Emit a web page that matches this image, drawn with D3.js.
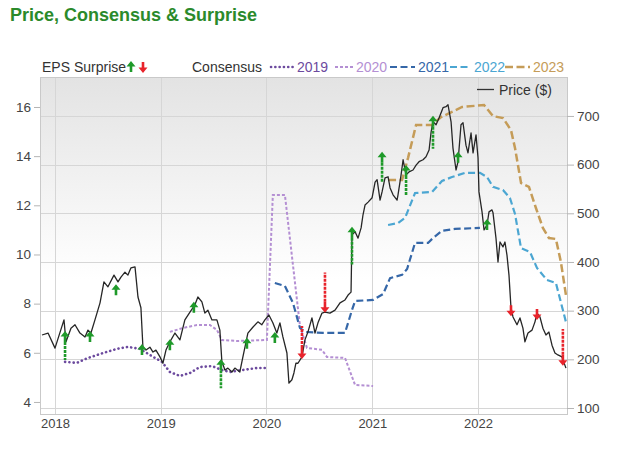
<!DOCTYPE html>
<html>
<head>
<meta charset="utf-8">
<script src="https://cdn.jsdelivr.net/npm/d3@7"></script>
<style>
  body { margin: 0; background: #fff; }
  svg { display: block; font-family: "Liberation Sans", Arial, sans-serif; }
</style>
</head>
<body>
<svg id="chart" width="620" height="468"></svg>
<script>
// price ($), [decimal year, value]
const price = [
  [2017.877,250],[2017.934,254],[2018.000,223],[2018.085,281],[2018.104,236],[2018.151,264],[2018.189,271],[2018.236,254],
  [2018.284,246],[2018.312,260],[2018.340,254],[2018.378,281],[2018.426,316],[2018.463,359],[2018.501,349],[2018.558,373],
  [2018.596,359],[2018.624,369],[2018.662,379],[2018.690,373],[2018.719,388],[2018.757,390],[2018.785,328],[2018.813,306],
  [2018.832,225],[2018.861,219],[2018.898,225],[2018.927,215],[2018.955,219],[2018.993,205],[2019.021,192],[2019.050,219],
  [2019.087,236],[2019.135,254],[2019.182,240],[2019.229,281],[2019.277,297],[2019.324,312],[2019.352,328],[2019.390,318],
  [2019.418,295],[2019.447,301],[2019.485,281],[2019.532,281],[2019.560,260],[2019.579,195],[2019.608,178],[2019.636,182],
  [2019.674,174],[2019.702,182],[2019.749,174],[2019.778,205],[2019.825,254],[2019.872,266],[2019.920,277],[2019.957,271],
  [2019.986,281],[2020.024,291],[2020.061,275],[2020.099,254],[2020.128,275],[2020.156,246],[2020.194,213],[2020.213,151],
  [2020.241,158],[2020.260,172],[2020.279,192],[2020.298,192],[2020.336,205],[2020.364,240],[2020.392,256],[2020.430,285],
  [2020.459,254],[2020.487,275],[2020.525,295],[2020.553,297],[2020.600,295],[2020.648,301],[2020.695,316],[2020.742,322],
  [2020.771,332],[2020.799,338],[2020.808,456],[2020.837,462],[2020.865,449],[2020.894,470],[2020.912,497],[2020.931,517],
  [2020.960,523],[2020.998,532],[2021.026,564],[2021.045,569],[2021.073,527],[2021.092,544],[2021.120,573],[2021.149,575],
  [2021.168,552],[2021.196,538],[2021.234,527],[2021.243,538],[2021.272,579],[2021.291,610],[2021.319,579],[2021.347,585],
  [2021.385,589],[2021.414,599],[2021.442,606],[2021.480,610],[2021.508,616],[2021.537,630],[2021.556,667],[2021.574,688],
  [2021.603,682],[2021.631,696],[2021.669,717],[2021.697,719],[2021.716,723],[2021.745,688],[2021.763,634],[2021.792,589],
  [2021.811,606],[2021.839,682],[2021.858,686],[2021.886,640],[2021.905,624],[2021.934,665],[2021.953,624],[2021.981,661],
  [2022.000,614],[2022.009,544],[2022.038,503],[2022.057,466],[2022.085,476],[2022.104,503],[2022.132,507],[2022.142,501],
  [2022.170,449],[2022.189,400],[2022.208,441],[2022.236,431],[2022.255,441],[2022.274,414],[2022.293,373],[2022.312,306],
  [2022.331,287],[2022.369,271],[2022.397,285],[2022.425,264],[2022.444,236],[2022.473,254],[2022.511,260],[2022.539,277],
  [2022.558,295],[2022.586,287],[2022.614,264],[2022.643,250],[2022.671,256],[2022.700,229],[2022.728,213],[2022.756,209],
  [2022.794,205],[2022.832,182]
];

// EPS consensus by fiscal year, [decimal year, eps]
const consensus2019 = [
  [2018.095,5.63],[2018.208,5.59],[2018.312,5.79],[2018.454,5.99],[2018.586,6.16],[2018.690,6.24],[2018.804,6.16],
  [2018.898,5.91],[2019.012,5.63],[2019.087,5.22],[2019.182,5.06],[2019.277,5.18],[2019.371,5.42],[2019.485,5.46],
  [2019.579,5.30],[2019.655,5.22],[2019.778,5.30],[2019.910,5.38],[2020.005,5.38]
];
const consensus2020 = [
  [2019.087,6.85],[2019.210,7.01],[2019.343,7.13],[2019.466,7.13],[2019.532,6.93],[2019.579,6.52],[2019.721,6.48],
  [2020.005,6.52],[2020.061,12.42],[2020.175,12.42],[2020.317,7.09],[2020.383,6.20],[2020.525,6.12],[2020.572,5.83],
  [2020.742,5.79],[2020.837,4.69],[2021.007,4.65]
];
const consensus2021 = [
  [2020.080,8.84],[2020.175,8.72],[2020.251,8.03],[2020.317,7.01],[2020.364,6.85],[2020.534,6.81],[2020.742,6.81],
  [2020.808,7.74],[2020.837,8.11],[2021.007,8.15],[2021.102,8.39],[2021.168,9.04],[2021.281,9.17],[2021.329,9.41],
  [2021.404,10.47],[2021.527,10.47],[2021.574,10.67],[2021.659,10.96],[2021.782,11.04],[2022.018,11.08]
];
const consensus2022 = [
  [2021.149,11.20],[2021.243,11.28],[2021.310,11.49],[2021.404,12.50],[2021.565,12.54],[2021.659,12.99],[2021.754,13.15],
  [2021.877,13.32],[2022.019,13.32],[2022.085,13.15],[2022.142,12.75],[2022.236,12.62],[2022.302,12.30],[2022.350,11.65],
  [2022.407,10.26],[2022.492,10.10],[2022.558,9.45],[2022.652,8.96],[2022.737,8.84],[2022.803,7.74],[2022.832,7.25]
];
const consensus2023 = [
  [2021.149,13.03],[2021.281,13.03],[2021.338,13.93],[2021.414,15.27],[2021.565,15.27],[2021.650,15.59],[2021.754,15.80],
  [2021.849,16.00],[2022.057,16.08],[2022.142,15.63],[2022.236,15.55],[2022.312,15.06],[2022.350,14.33],[2022.407,12.91],
  [2022.482,12.75],[2022.548,11.89],[2022.614,11.08],[2022.671,10.67],[2022.737,10.63],[2022.784,9.70],[2022.832,8.35]
];

// EPS surprises: date, price level of the arrow, tail length ($), beat or miss
const surprises = [
  {year: 2018.095, price: 246, tail: 37, beat: true},
  {year: 2018.331, price: 246, tail: 0, beat: true},
  {year: 2018.577, price: 342, tail: 0, beat: true},
  {year: 2018.823, price: 219, tail: 0, beat: true},
  {year: 2019.087, price: 229, tail: 0, beat: true},
  {year: 2019.314, price: 306, tail: 0, beat: true},
  {year: 2019.570, price: 188, tail: 37, beat: true},
  {year: 2019.816, price: 232, tail: 0, beat: true},
  {year: 2020.080, price: 244, tail: 0, beat: true},
  {year: 2020.336, price: 213, tail: 45, beat: false},
  {year: 2020.553, price: 308, tail: 60, beat: false},
  {year: 2020.808, price: 460, tail: 55, beat: true},
  {year: 2021.092, price: 614, tail: 39, beat: true},
  {year: 2021.319, price: 587, tail: 39, beat: true},
  {year: 2021.574, price: 688, tail: 45, beat: true},
  {year: 2021.811, price: 614, tail: 0, beat: true},
  {year: 2022.085, price: 476, tail: 0, beat: true},
  {year: 2022.312, price: 301, tail: 0, beat: false},
  {year: 2022.558, price: 293, tail: 0, beat: false},
  {year: 2022.803, price: 199, tail: 53, beat: false}
];

const epsTicks = [4, 6, 8, 10, 12, 14, 16];
const priceTicks = [100, 200, 300, 400, 500, 600, 700];
const consensusLabels = ["2019", "2020", "2021", "2022", "2023"];

function toDate(dy) {
  const y = Math.floor(dy);
  const a = new Date(y, 0, 1), b = new Date(y + 1, 0, 1);
  return new Date(+a + (dy - y) * (b - a));
}

const svg = d3.select("#chart");
const box = {left: 40, right: 567, top: 77, bottom: 414};

const x = d3.scaleTime()
    .domain([toDate(2017.858), toDate(2022.842)])
    .range([box.left, box.right]);
const yEps = d3.scaleLinear().domain([3.51, 17.22]).range([box.bottom, box.top]);
const yPrice = d3.scaleLinear().domain([87.7, 780]).range([box.bottom, box.top]);

// title
svg.append("text")
    .attr("x", 10).attr("y", 21)
    .attr("fill", "#2b8a2b")
    .attr("font-size", 18).attr("font-weight", "bold")
    .text("Price, Consensus & Surprise");

// plot background
const defs = svg.append("defs");
const grad = defs.append("linearGradient")
    .attr("id", "bg").attr("x1", 0).attr("y1", 0).attr("x2", 0).attr("y2", 1);
grad.append("stop").attr("offset", "0%").attr("stop-color", "#e3e3e3");
grad.append("stop").attr("offset", "60%").attr("stop-color", "#ffffff");
defs.append("clipPath").attr("id", "clip")
  .append("rect").attr("x", box.left).attr("y", box.top)
    .attr("width", box.right - box.left).attr("height", box.bottom - box.top);

svg.append("rect")
    .attr("x", box.left).attr("y", box.top)
    .attr("width", box.right - box.left).attr("height", box.bottom - box.top)
    .attr("fill", "url(#bg)");

// grid
svg.append("g").selectAll("line")
  .data(priceTicks)
  .join("line")
    .attr("x1", box.left).attr("x2", box.right)
    .attr("y1", d => Math.round(yPrice(d)) + 0.5).attr("y2", d => Math.round(yPrice(d)) + 0.5)
    .attr("stroke", "#d6d6d6");
svg.append("g").selectAll("line")
  .data(x.ticks(d3.timeYear))
  .join("line")
    .attr("x1", d => Math.round(x(d)) + 0.5).attr("x2", d => Math.round(x(d)) + 0.5)
    .attr("y1", box.top).attr("y2", box.bottom)
    .attr("stroke", "#d6d6d6");

svg.append("rect")
    .attr("x", box.left + 0.5).attr("y", box.top + 0.5)
    .attr("width", box.right - box.left).attr("height", box.bottom - box.top)
    .attr("fill", "none").attr("stroke", "#c9c9c9");

// axes
const axisL = svg.append("g")
    .attr("transform", "translate(" + box.left + ",0)")
    .call(d3.axisLeft(yEps).tickValues(epsTicks).tickSize(6).tickPadding(3));
const axisR = svg.append("g")
    .attr("transform", "translate(" + box.right + ",0)")
    .call(d3.axisRight(yPrice).tickValues(priceTicks).tickSize(7).tickPadding(3));
const axisB = svg.append("g")
    .attr("transform", "translate(0," + box.bottom + ")")
    .call(d3.axisBottom(x).ticks(d3.timeYear).tickFormat(d3.timeFormat("%Y")).tickSize(0).tickPadding(5));

[axisL, axisR, axisB].forEach(a => {
  a.select(".domain").remove();
  a.selectAll("line").attr("stroke", "#b5b5b5");
  a.selectAll("text").attr("fill", "#444").attr("font-size", 13.5)
    .attr("font-family", "'Liberation Sans', Arial, sans-serif");
});
axisB.selectAll("text").attr("font-size", 13);

// consensus lines
const consensusSeries = [
  {data: consensus2019, color: "#6c4a9e", width: 2.6, dash: "0.1,4.2", cap: "round"},
  {data: consensus2020, color: "#b48fd3", width: 2, dash: "3,2", cap: "butt"},
  {data: consensus2021, color: "#3567a8", width: 2.2, dash: "7,3.5", cap: "butt"},
  {data: consensus2022, color: "#4ba6d2", width: 2.2, dash: "7,3.5", cap: "butt"},
  {data: consensus2023, color: "#c59c58", width: 2.5, dash: "8,3.5", cap: "butt"}
];

const epsLine = d3.line()
    .x(d => x(toDate(d[0])))
    .y(d => yEps(d[1]));

const plot = svg.append("g").attr("clip-path", "url(#clip)");

consensusSeries.forEach(s => {
  plot.append("path")
      .datum(s.data)
      .attr("fill", "none")
      .attr("stroke", s.color)
      .attr("stroke-width", s.width)
      .attr("stroke-dasharray", s.dash)
      .attr("stroke-linecap", s.cap)
      .attr("d", epsLine);
});

// price line
const priceLine = d3.line()
    .x(d => x(toDate(d[0])))
    .y(d => yPrice(d[1]));

plot.append("path")
    .datum(price)
    .attr("fill", "none")
    .attr("stroke", "#262626")
    .attr("stroke-width", 1.3)
    .attr("stroke-linejoin", "round")
    .attr("d", priceLine);

// surprise arrows
function arrow(cx, cy, up) {
  const s = up ? 1 : -1;
  return "M" + cx + "," + (cy - 6 * s) +
    "L" + (cx + 4.5) + "," + (cy - 0.5 * s) +
    "L" + (cx + 1.3) + "," + (cy - 0.5 * s) +
    "L" + (cx + 1.3) + "," + (cy + 5 * s) +
    "L" + (cx - 1.3) + "," + (cy + 5 * s) +
    "L" + (cx - 1.3) + "," + (cy - 0.5 * s) +
    "L" + (cx - 4.5) + "," + (cy - 0.5 * s) + "Z";
}
const green = "#1f9a2a", red = "#e8232b";

const marks = plot.append("g").selectAll("g")
  .data(surprises)
  .join("g");

marks.filter(d => d.tail > 0).append("line")
    .attr("x1", d => x(toDate(d.year))).attr("x2", d => x(toDate(d.year)))
    .attr("y1", d => yPrice(d.price) + (d.beat ? 5 : -5))
    .attr("y2", d => yPrice(d.beat ? d.price - d.tail : d.price + d.tail) + (d.beat ? 5 : -5))
    .attr("stroke", d => d.beat ? green : red)
    .attr("stroke-width", 2.6)
    .attr("stroke-dasharray", "3,1");

marks.append("path")
    .attr("d", d => arrow(x(toDate(d.year)), yPrice(d.price), d.beat))
    .attr("fill", d => d.beat ? green : red);

// legend
const legend = svg.append("g").attr("font-size", 14);
legend.append("text").attr("x", 42).attr("y", 72).attr("fill", "#333").text("EPS Surprise");
legend.append("path").attr("d", arrow(131, 67, true)).attr("fill", green);
legend.append("path").attr("d", arrow(143, 67, false)).attr("fill", red);
legend.append("text").attr("x", 192).attr("y", 72).attr("fill", "#333").text("Consensus");

const sampleX = [[271, 294], [335, 353], [390, 415], [450, 471], [505, 530]];
consensusSeries.forEach((s, i) => {
  legend.append("line")
      .attr("x1", sampleX[i][0]).attr("x2", sampleX[i][1])
      .attr("y1", 67).attr("y2", 67)
      .attr("stroke", s.color)
      .attr("stroke-width", s.width)
      .attr("stroke-dasharray", s.dash)
      .attr("stroke-linecap", s.cap);
  legend.append("text")
      .attr("x", sampleX[i][1] + 3).attr("y", 72)
      .attr("fill", s.color)
      .text(consensusLabels[i]);
});

legend.append("line")
    .attr("x1", 477).attr("x2", 494).attr("y1", 89.5).attr("y2", 89.5)
    .attr("stroke", "#333").attr("stroke-width", 1.3);
legend.append("text").attr("x", 499).attr("y", 95).attr("fill", "#333").text("Price ($)");
</script>
</body>
</html>
